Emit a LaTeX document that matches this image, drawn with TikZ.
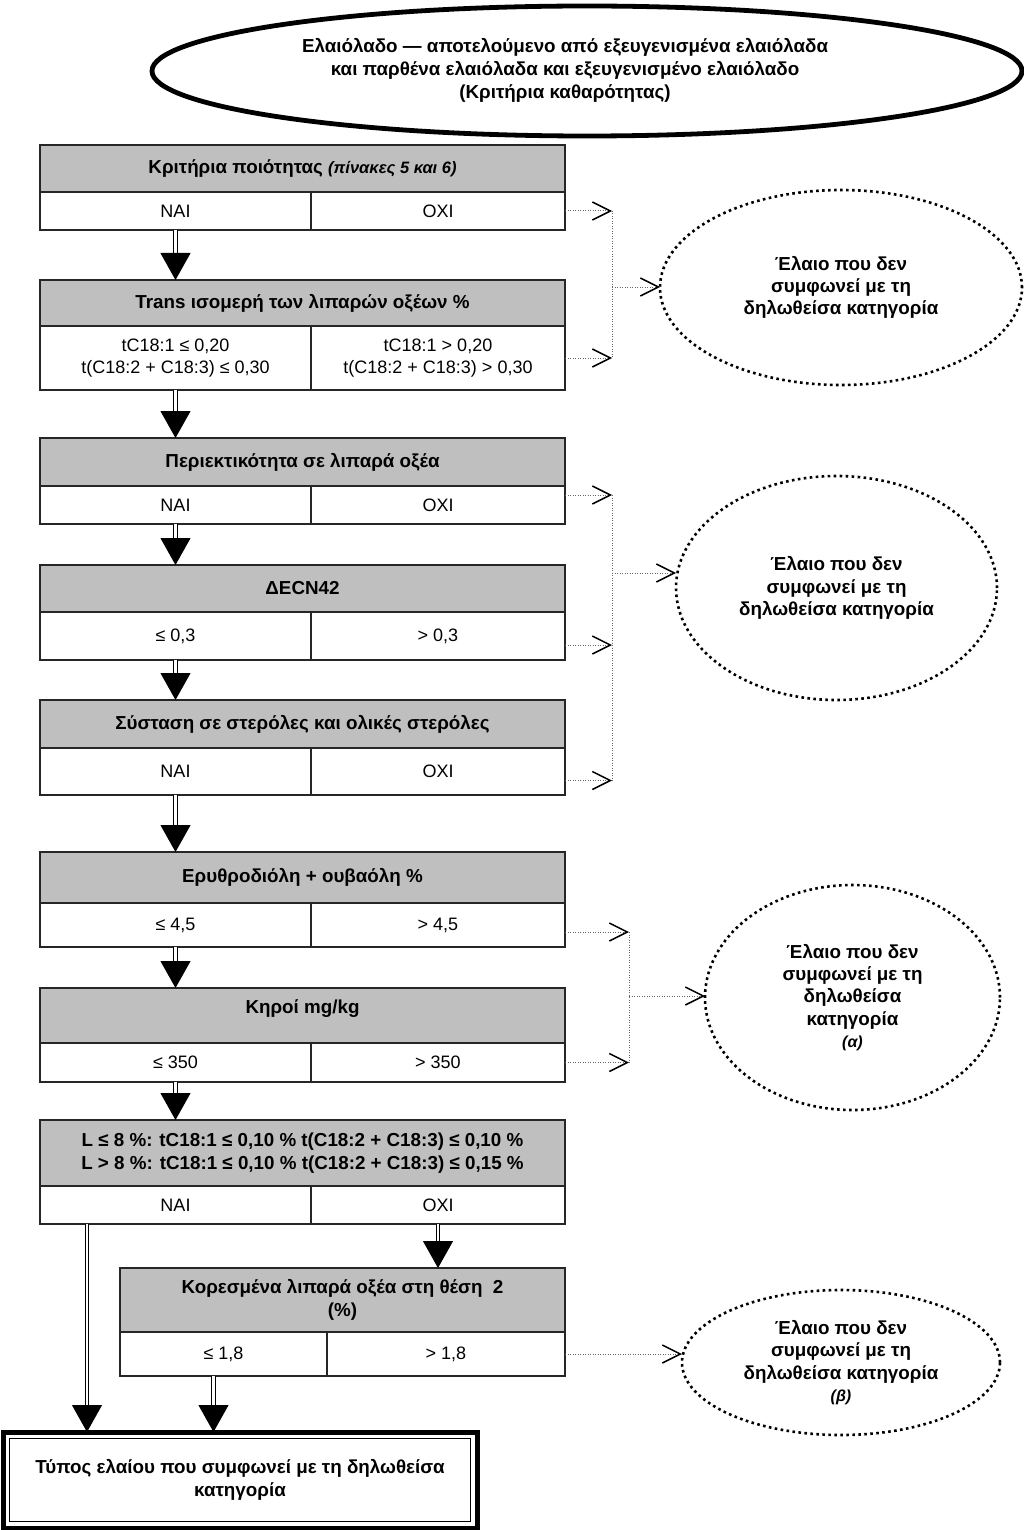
\documentclass[tikz,border=0pt]{standalone}
\usepackage{fontspec}
\setmainfont{Liberation Sans}
\usetikzlibrary{calc}
\usetikzlibrary{shapes.geometric}
\usetikzlibrary{arrows.meta, positioning}

\begin{document}
\begin{tikzpicture}[x=1pt, y=-1pt,
	every node/.style={inner sep=0pt, outer sep=0pt, align=center, font=\fontsize{18}{22.6}\selectfont},
	head/.style={rectangle, draw=black!85, line width=1.6pt, fill=black!25, font=\fontsize{18.8}{22.6}\selectfont\bfseries},
	cell/.style={rectangle, draw=black!85, line width=1.6pt, fill=white},
	fail/.style={ellipse, draw, line width=2.6pt, dash pattern=on 2.6pt off 3.4pt, font=\fontsize{18.8}{22.2}\selectfont\bfseries},
	dbl/.style={double, double distance=2.6pt, line width=1.1pt, -{Triangle[length=27pt, width=30pt]}},
	dots/.style={draw=black!60, line width=1pt, dash pattern=on 1pt off 1.5pt},
	miss/.style={dots, -{Straight Barb[black, length=18pt, width=18pt, line width=1.5pt]}}]
	\useasboundingbox (0,0) rectangle (1024,1530);

	\node[ellipse, draw, line width=4.8pt, minimum width=870pt, minimum height=130pt, align=none, font=\fontsize{18.8}{23}\selectfont\bfseries] at (587,71) (start) {\hspace*{-44pt}\begin{tabular}{@{}c@{}}Ελαιόλαδο --- αποτελούμενο από εξευγενισμένα ελαιόλαδα\\και παρθένα ελαιόλαδα και εξευγενισμένο ελαιόλαδο\\(Κριτήρια καθαρότητας)\end{tabular}};

	% quality criteria
	\node[head, minimum width=525pt, minimum height=47pt] at (302.5,168.5) (h1) {Κριτήρια ποιότητας {\fontsize{16.5}{18}\selectfont\itshape (πίνακες 5 και 6)}};
	\node[cell, minimum width=271pt, minimum height=38pt] at (175.5,211) (y1) {ΝΑΙ};
	\node[cell, minimum width=254pt, minimum height=38pt] at (438,211) (n1) {ΟΧΙ};

	% trans isomers
	\node[head, minimum width=525pt, minimum height=46pt] at (302.5,303) (h2) {Trans ισομερή των λιπαρών οξέων \%};
	\node[cell, minimum width=271pt, minimum height=64pt] at (175.5,358) (y2) {tC18:1 ≤ 0,20\\t(C18:2 + C18:3) ≤ 0,30};
	\node[cell, minimum width=254pt, minimum height=64pt] at (438,358) (n2) {tC18:1 > 0,20\\t(C18:2 + C18:3) > 0,30};

	% fatty acids
	\node[head, minimum width=525pt, minimum height=48pt] at (302.5,462) (h3) {Περιεκτικότητα σε λιπαρά οξέα};
	\node[cell, minimum width=271pt, minimum height=38pt] at (175.5,505) (y3) {ΝΑΙ};
	\node[cell, minimum width=254pt, minimum height=38pt] at (438,505) (n3) {ΟΧΙ};

	% ECN42
	\node[head, minimum width=525pt, minimum height=47pt] at (302.5,588.5) (h4) {ΔECN42};
	\node[cell, minimum width=271pt, minimum height=48pt] at (175.5,636) (y4) {≤ 0,3};
	\node[cell, minimum width=254pt, minimum height=48pt] at (438,636) (n4) {> 0,3};

	% sterols
	\node[head, minimum width=525pt, minimum height=48pt] at (302.5,724) (h5) {Σύσταση σε στερόλες και ολικές στερόλες};
	\node[cell, minimum width=271pt, minimum height=47pt] at (175.5,771.5) (y5) {ΝΑΙ};
	\node[cell, minimum width=254pt, minimum height=47pt] at (438,771.5) (n5) {ΟΧΙ};

	% erythrodiol
	\node[head, minimum width=525pt, minimum height=51pt] at (302.5,877.5) (h6) {Ερυθροδιόλη + ουβαόλη \%};
	\node[cell, minimum width=271pt, minimum height=44pt] at (175.5,925) (y6) {≤ 4,5};
	\node[cell, minimum width=254pt, minimum height=44pt] at (438,925) (n6) {> 4,5};

	% waxes
	\node[head, minimum width=525pt, minimum height=55pt] at (302.5,1015.5) (h7) {Κηροί mg/kg\\[-5.6pt]};
	\node[cell, minimum width=271pt, minimum height=39pt] at (175.5,1062.5) (y7) {≤ 350};
	\node[cell, minimum width=254pt, minimum height=39pt] at (438,1062.5) (n7) {> 350};

	% linoleic limits
	\node[head, minimum width=525pt, minimum height=66pt] at (302.5,1153) (h8) {L ≤ 8 \%: tC18:1 ≤ 0,10 \% t(C18:2 + C18:3) ≤ 0,10 \%\\L > 8 \%: tC18:1 ≤ 0,10 \% t(C18:2 + C18:3) ≤ 0,15 \%};
	\node[cell, minimum width=271pt, minimum height=38pt] at (175.5,1205) (y8) {ΝΑΙ};
	\node[cell, minimum width=254pt, minimum height=38pt] at (438,1205) (n8) {ΟΧΙ};

	% saturated at position 2
	\node[head, minimum width=445pt, minimum height=64pt] at (342.5,1300) (h9) {Κορεσμένα λιπαρά οξέα στη θέση\ \ 2\\(\%)};
	\node[cell, minimum width=207pt, minimum height=44pt] at (223.5,1354) (y9) {≤ 1,8};
	\node[cell, minimum width=238pt, minimum height=44pt] at (446,1354) (n9) {> 1,8};

	% result
	\node[rectangle, draw, line width=5pt, minimum width=474pt, minimum height=96pt, font=\fontsize{18.8}{22.6}\selectfont\bfseries] at (240,1480) (bot) {Τύπος ελαίου που συμφωνεί με τη δηλωθείσα\\κατηγορία};
	\draw[line width=1.5pt] ($(bot.north west)+(6.5,6.5)$) rectangle ($(bot.south east)+(-6.5,-6.5)$);

	% rejected
	\node[fail, minimum width=362pt, minimum height=195pt] at (841,287.5) (e1) {Έλαιο που δεν\\συμφωνεί με τη\\δηλωθείσα κατηγορία};
	\node[fail, minimum width=321pt, minimum height=224pt] at (836.5,588) (e2) {Έλαιο που δεν\\συμφωνεί με τη\\δηλωθείσα κατηγορία};
	\node[fail, minimum width=295pt, minimum height=225pt] at (852.5,997.5) (e3) {Έλαιο που δεν\\συμφωνεί με τη\\δηλωθείσα\\κατηγορία\\{\fontsize{16}{18}\selectfont\itshape (α)}};
	\node[fail, minimum width=318pt, minimum height=145pt] at (841,1362.5) (e4) {Έλαιο που δεν\\συμφωνεί με τη\\δηλωθείσα κατηγορία\\{\fontsize{16}{18}\selectfont\itshape (β)}};

	\coordinate (j1) at (612,287);
	\coordinate (j2) at (612,573);
	\coordinate (j3) at (629,996);

	% main flow
	\draw[dbl] (y1.south) -- (y1.south |- h2.north);
	\draw[dbl] (y2.south) -- (y2.south |- h3.north);
	\draw[dbl] (y3.south) -- (y3.south |- h4.north);
	\draw[dbl] (y4.south) -- (y4.south |- h5.north);
	\draw[dbl] (y5.south) -- (y5.south |- h6.north);
	\draw[dbl] (y6.south) -- (y6.south |- h7.north);
	\draw[dbl] (y7.south) -- (y7.south |- h8.north);
	\draw[dbl] (n8.south) -- (n8.south |- h9.north);
	\draw[dbl] ($(y8.south west)+(47,0)$) -- ($(bot.north west)+(84,0)$);
	\draw[dbl] ($(y9.south)+(-10,0)$) -- ($(y9.south |- bot.north)+(-10,0)$);

	% rejections
	\draw[miss] (n1.east) -- (n1.east -| j1);
	\draw[miss] (n2.east) -- (n2.east -| j1);
	\draw[dots] (n1.east -| j1) -- (n2.east -| j1);
	\draw[miss] (j1) -- (j1 -| e1.west);

	\draw[miss] ($(n3.east)+(0,-10)$) -- ($(n3.east -| j2)+(0,-10)$);
	\draw[miss] ($(n4.east)+(0,9)$) -- ($(n4.east -| j2)+(0,9)$);
	\draw[miss] ($(n5.east)+(0,9)$) -- ($(n5.east -| j2)+(0,9)$);
	\draw[dots] ($(n3.east -| j2)+(0,-10)$) -- ($(n5.east -| j2)+(0,9)$);
	\draw[miss] (j2) -- (j2 -| e2.west);

	\draw[miss] ($(n6.east)+(0,7)$) -- ($(n6.east -| j3)+(0,7)$);
	\draw[miss] (n7.east) -- (n7.east -| j3);
	\draw[dots] ($(n6.east -| j3)+(0,7)$) -- (n7.east -| j3);
	\draw[miss] (j3) -- (j3 -| e3.west);

	\draw[miss] (n9.east) -- (n9.east -| e4.west);
\end{tikzpicture}
\end{document}
